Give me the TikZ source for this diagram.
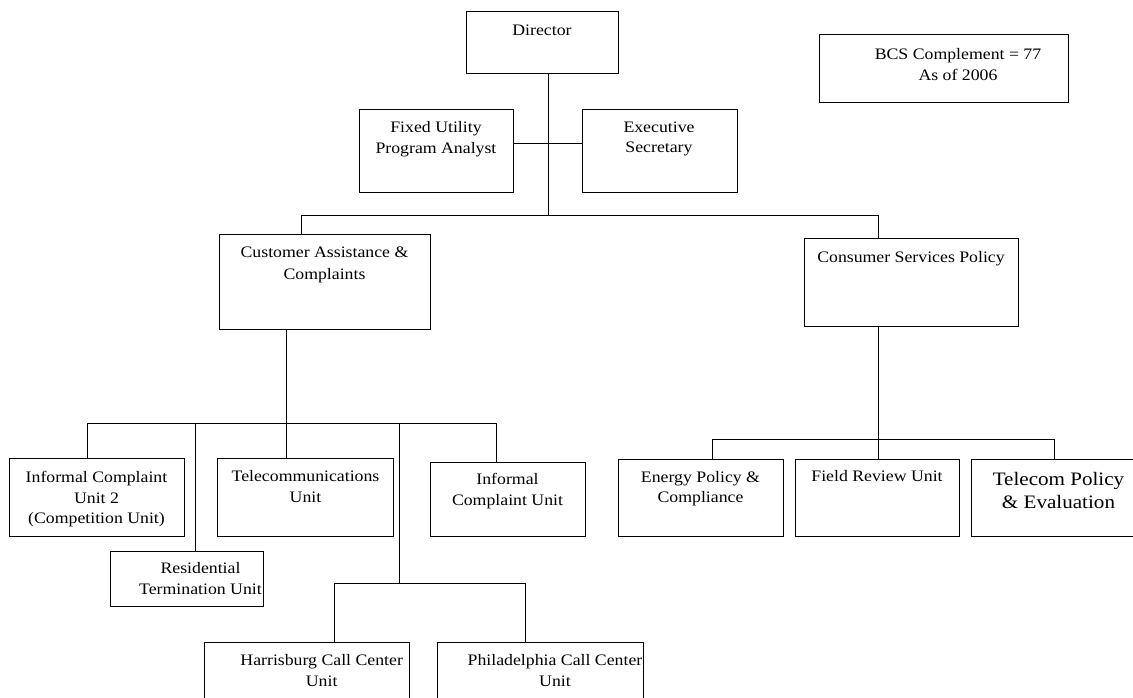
\documentclass[tikz,border=0pt]{standalone}
\usepackage{fontspec}
\setmainfont[FakeStretch=1.11]{Liberation Serif}
\begin{document}
\begin{tikzpicture}[x=1pt,y=-1pt,
  box/.style={draw, line width=1pt, inner sep=0pt, anchor=north west},
  lbl/.style={align=center, inner sep=0pt, anchor=north, font=\fontsize{16}{20.5}\selectfont},
  big/.style={align=center, inner sep=0pt, anchor=north, font=\fontsize{19}{23}\selectfont},
  conn/.style={line width=1pt}]
\useasboundingbox (0,0) rectangle (1133,698);
\clip (0,0) rectangle (1133,698);

% boxes
\node[box, minimum width=152pt, minimum height=62pt] (dir) at (466,11) {};
\node[box, minimum width=154pt, minimum height=83pt] (fua) at (359,109) {};
\node[box, minimum width=155pt, minimum height=83pt] (es) at (582,109) {};
\node[box, minimum width=249pt, minimum height=68pt] (bcs) at (819,34) {};
\node[box, minimum width=211pt, minimum height=95pt] (cac) at (219,234) {};
\node[box, minimum width=214pt, minimum height=88pt] (csp) at (804,238) {};
\node[box, minimum width=175pt, minimum height=78pt] (icu2) at (9,458) {};
\node[box, minimum width=153pt, minimum height=55pt] (res) at (110,551) {};
\node[box, minimum width=176pt, minimum height=78pt] (tel) at (217,458) {};
\node[box, minimum width=155pt, minimum height=74pt] (icu) at (430,462) {};
\node[box, minimum width=205pt, minimum height=80pt] (har) at (204,641.5) {};
\node[box, minimum width=206pt, minimum height=80pt] (phi) at (437,641.5) {};
\node[box, minimum width=165pt, minimum height=77.5pt] (epc) at (618,458.5) {};
\node[box, minimum width=164pt, minimum height=77.5pt] (frv) at (795,458.5) {};
\node[box, minimum width=180pt, minimum height=77.5pt] (tpe) at (971,458.5) {};

% texts
\node[lbl] (tdir) at (542,24.5) {Director};
\node[lbl] (tfua) at (436,121.5) {Fixed Utility\\Program Analyst};
\node[lbl] (tes) at (659,121.5) {Executive\\Secretary};
\node[lbl, font=\fontsize{16}{21.5}\selectfont] (tbcs) at (958,47.8) {BCS Complement = 77\\As of 2006};
\node[lbl, font=\fontsize{16}{22}\selectfont] (tcac) at (324.5,246.5) {Customer Assistance \&\\Complaints};
\node[lbl] (tcsp) at (911,251) {Consumer Services Policy};
\node[lbl] (ticu2) at (96.5,471.5) {Informal Complaint\\Unit 2\\(Competition Unit)};
\node[lbl, font=\fontsize{16}{21}\selectfont] (tres) at (200.5,562.5) {Residential\\Termination Unit};
\node[lbl] (ttel) at (305.5,470.5) {Telecommunications\\Unit};
\node[lbl, font=\fontsize{16}{21}\selectfont] (ticu) at (507.5,473.5) {Informal\\Complaint Unit};
\node[lbl] (thar) at (321.7,654.5) {Harrisburg Call Center\\Unit};
\node[lbl] (tphi) at (555,654.5) {Philadelphia Call Center\\Unit};
\node[lbl] (tepc) at (700.5,471) {Energy Policy \&\\Compliance};
\node[lbl] (tfrv) at (877,470.5) {Field Review Unit};
\node[big] (ttpe) at (1058.5,472.5) {Telecom Policy\\\& Evaluation};

% junction coordinates
\coordinate (jTop) at (548,215);
\coordinate (jMid) at (548,144);
\coordinate (bL) at (301,215);
\coordinate (bR) at (878,215);
\coordinate (c1) at (286,423);
\coordinate (b2L) at (87,423);
\coordinate (b2R) at (496,423);
\coordinate (b2r) at (195,423);
\coordinate (b2c) at (399,423);
\coordinate (b3) at (399,583);
\coordinate (b3L) at (334,583);
\coordinate (b3R) at (525,583);
\coordinate (b4) at (878,439);
\coordinate (b4L) at (712,439);
\coordinate (b4R) at (1054,439);

% connectors
\draw[conn] (dir.south -| jTop) -- (jTop);
\draw[conn] (fua.east |- jMid) -- (es.west |- jMid);
\draw[conn] (cac.north -| bL) -- (bL) -- (bR) -- (csp.north -| bR);
\draw[conn] (cac.south -| c1) -- (tel.north -| c1);
\draw[conn] (icu2.north -| b2L) -- (b2L) -- (b2R) -- (icu.north -| b2R);
\draw[conn] (b2r) -- (res.north -| b2r);
\draw[conn] (b2c) -- (b3);
\draw[conn] (har.north -| b3L) -- (b3L) -- (b3R) -- (phi.north -| b3R);
\draw[conn] (csp.south -| b4) -- (frv.north -| b4);
\draw[conn] (epc.north -| b4L) -- (b4L) -- (b4R) -- (tpe.north -| b4R);
\end{tikzpicture}
\end{document}
